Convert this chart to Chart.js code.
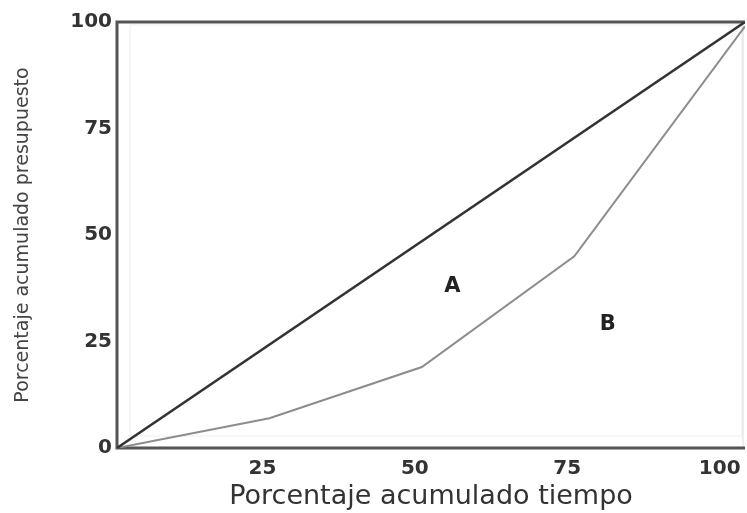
<!DOCTYPE html>
<html>
<head>
<meta charset="utf-8">
<script src="https://cdn.jsdelivr.net/npm/chart.js@4"></script>
<style>
  html, body { margin: 0; padding: 0; background: #fff; }
  #wrap { width: 747px; height: 513px; }
</style>
</head>
<body>
<div id="wrap"><canvas id="lorenz"></canvas></div>
<script>
// ticks
var xTicks = [25, 50, 75, 100];
var yTicks = [0, 25, 50, 75, 100];

// linea de igualdad (negra)
var equalX = [0, 103];
var equalY = [0, 100];

// curva real (gris)
var curveX = [0, 25, 50, 75, 103];
var curveY = [0, 7, 19, 45, 99];

// etiquetas de zona
var zoneNames = ['A', 'B'];
var zoneX = [55, 80.5];
var zoneY = [38, 29];

function toPoints(xs, ys) {
    return xs.map(function (x, i) { return { x: x, y: ys[i] }; });
}

// marco y letras A / B
var framePlugin = {
    id: 'frame',
    beforeDatasetsDraw: function (chart) {
        var ctx = chart.ctx, a = chart.chartArea;
        ctx.save();
        ctx.strokeStyle = '#eeeeee';
        ctx.lineWidth = 1;
        ctx.strokeRect(a.left + 13, a.top + 3, a.right - a.left - 16, a.bottom - a.top - 15);
        ctx.strokeStyle = '#dddddd';
        ctx.beginPath();
        ctx.moveTo(a.right - 2, a.top);
        ctx.lineTo(a.right - 2, a.bottom);
        ctx.stroke();
        ctx.strokeStyle = '#555555';
        ctx.lineWidth = 3;
        ctx.beginPath();
        ctx.moveTo(a.right, a.top);
        ctx.lineTo(a.left, a.top);
        ctx.lineTo(a.left, a.bottom);
        ctx.lineTo(a.right, a.bottom);
        ctx.stroke();
        ctx.restore();
    },
    afterDatasetsDraw: function (chart) {
        var ctx = chart.ctx;
        var sx = chart.scales.x, sy = chart.scales.y;
        ctx.save();
        ctx.font = 'bold 21px "DejaVu Sans"';
        ctx.fillStyle = '#222222';
        ctx.textAlign = 'center';
        ctx.textBaseline = 'middle';
        zoneNames.forEach(function (n, i) {
            ctx.fillText(n, sx.getPixelForValue(zoneX[i]), sy.getPixelForValue(zoneY[i]));
        });
        ctx.restore();
    }
};

var ctx = document.getElementById('lorenz').getContext('2d');
new Chart(ctx, {
    type: 'scatter',
    data: {
        datasets: [{
            data: toPoints(equalX, equalY),
            showLine: true,
            borderColor: '#333333',
            borderWidth: 2.5,
            pointRadius: 0
        }, {
            data: toPoints(curveX, curveY),
            showLine: true,
            borderColor: '#8c8c8c',
            borderWidth: 2,
            pointRadius: 0
        }]
    },
    options: {
        responsive: true,
        maintainAspectRatio: false,
        animation: false,
        layout: { padding: { top: 22, right: 2, left: 0, bottom: 0 } },
        plugins: {
            legend: { display: false },
            tooltip: { enabled: false }
        },
        scales: {
            x: {
                type: 'linear',
                min: 0,
                max: 103,
                grid: { display: false, drawTicks: false },
                border: { display: false },
                afterBuildTicks: function (s) {
                    s.ticks = xTicks.map(function (v) { return { value: v }; });
                },
                afterFit: function (s) {
                    s.height = 65;
                    s.paddingLeft = 0;
                    s.paddingRight = 0;
                },
                ticks: {
                    padding: 9,
                    labelOffset: -7,
                    maxRotation: 0,
                    color: '#333333',
                    font: { family: 'DejaVu Sans', size: 20, weight: 'bold' }
                },
                title: {
                    display: true,
                    text: 'Porcentaje acumulado tiempo',
                    color: '#333333',
                    padding: { top: 0, bottom: 0 },
                    font: { family: 'DejaVu Sans', size: 27 }
                }
            },
            y: {
                type: 'linear',
                min: 0,
                max: 100,
                grid: { display: false, drawTicks: false },
                border: { display: false },
                afterBuildTicks: function (s) {
                    s.ticks = yTicks.map(function (v) { return { value: v }; });
                },
                afterFit: function (s) {
                    s.width = 117;
                    s.paddingTop = 0;
                    s.paddingBottom = 0;
                },
                ticks: {
                    padding: 5,
                    color: '#333333',
                    font: { family: 'DejaVu Sans', size: 20, weight: 'bold' }
                },
                title: {
                    display: true,
                    text: 'Porcentaje acumulado presupuesto',
                    color: '#444444',
                    padding: { top: 12, bottom: 0 },
                    font: { family: 'DejaVu Sans', size: 19 }
                }
            }
        }
    },
    plugins: [framePlugin]
});
</script>
</body>
</html>
